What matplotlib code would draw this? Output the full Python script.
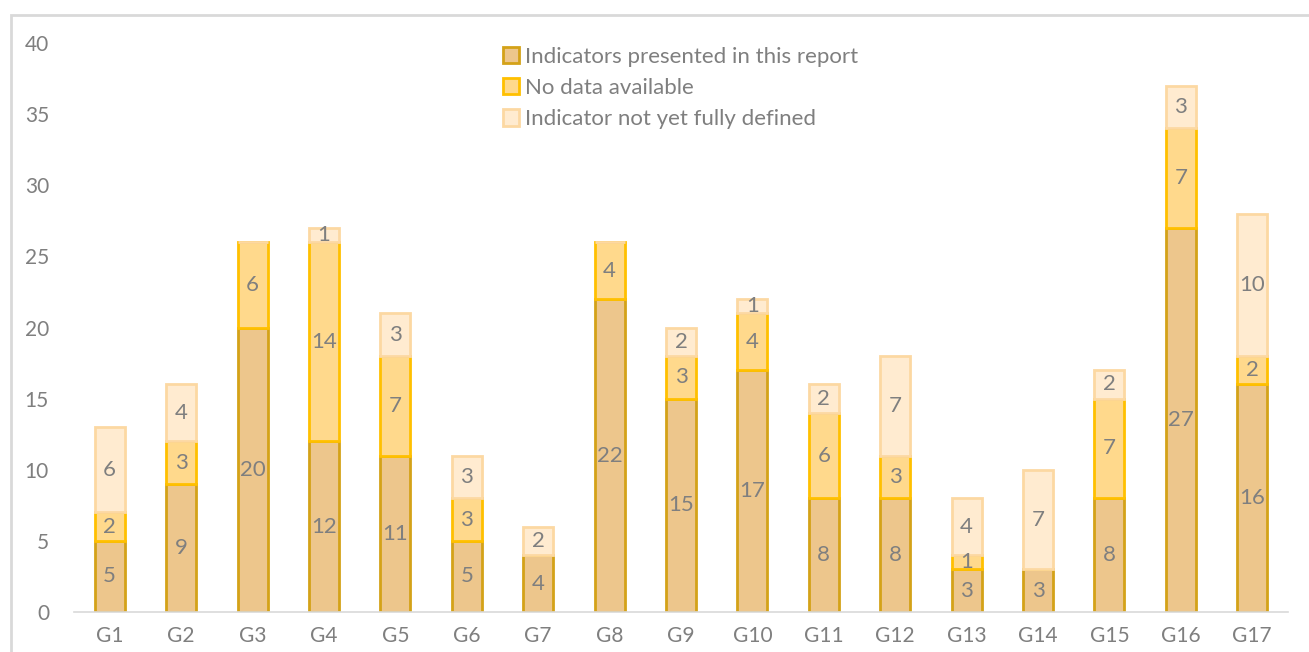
import numpy as np
import matplotlib.pyplot as plt
from matplotlib.patches import Rectangle

goals = ['G1', 'G2', 'G3', 'G4', 'G5', 'G6', 'G7', 'G8', 'G9', 'G10',
         'G11', 'G12', 'G13', 'G14', 'G15', 'G16', 'G17']
presented = [5, 9, 20, 12, 11, 5, 4, 22, 15, 17, 8, 8, 3, 3, 8, 27, 16]
no_data = [2, 3, 6, 14, 7, 3, 0, 4, 3, 4, 6, 3, 1, 0, 7, 7, 2]
not_defined = [6, 4, 0, 1, 3, 3, 2, 0, 2, 1, 2, 7, 4, 7, 2, 3, 10]

series = [
    ('Indicators presented in this report', presented, '#EDC68C', '#D4A218'),
    ('No data available', no_data, '#FFD98C', '#FFC000'),
    ('Indicator not yet fully defined', not_defined, '#FFEBD0', '#FCD8A2'),
]

plt.rcParams['font.family'] = ['Lato', 'DejaVu Sans']
fig = plt.figure(figsize=(13.09, 6.52), dpi=100)
ax = fig.add_axes([74 / 1309, 40 / 652, (1288 - 74) / 1309, (612 - 43) / 652])

# chart border
fig.patches.append(Rectangle((11 / 1309, -0.1), 1.2, (652 - 15) / 652 + 0.1,
                             transform=fig.transFigure, fill=False,
                             edgecolor='#D9D9D9', linewidth=2))

x = np.arange(len(goals))
bottom = np.zeros(len(goals))
for name, vals, fc, ec in series:
    vals = np.array(vals)
    ax.bar(x, vals, 0.42, bottom=bottom, color=fc, edgecolor=ec,
           linewidth=2, label=name)
    for i, v in enumerate(vals):
        if v > 0:
            ax.text(x[i], bottom[i] + v / 2, str(v), ha='center', va='center',
                    fontsize=16, color='#7F7F7F')
    bottom += vals

ax.set_xlim(-0.5, 16.5)
ax.set_ylim(0, 40)
ax.set_yticks(range(0, 41, 5))
ax.set_xticks(x)
ax.set_xticklabels(goals)
ax.tick_params(length=0, labelsize=15, labelcolor='#7F7F7F')
ax.tick_params(axis='y', pad=18)
ax.tick_params(axis='x', pad=10)
for s in ['top', 'right', 'left']:
    ax.spines[s].set_visible(False)
ax.spines['bottom'].set_color('#D9D9D9')
ax.spines['bottom'].set_linewidth(1.2)

leg = ax.legend(loc='upper left', bbox_to_anchor=(0.353, 0.993), frameon=False,
                fontsize=16, handlelength=0.75, handleheight=0.75,
                handletextpad=0.25, labelspacing=0.5, labelcolor='#7F7F7F',
                borderaxespad=0, borderpad=0)

fig.savefig('out.png', dpi=100)
